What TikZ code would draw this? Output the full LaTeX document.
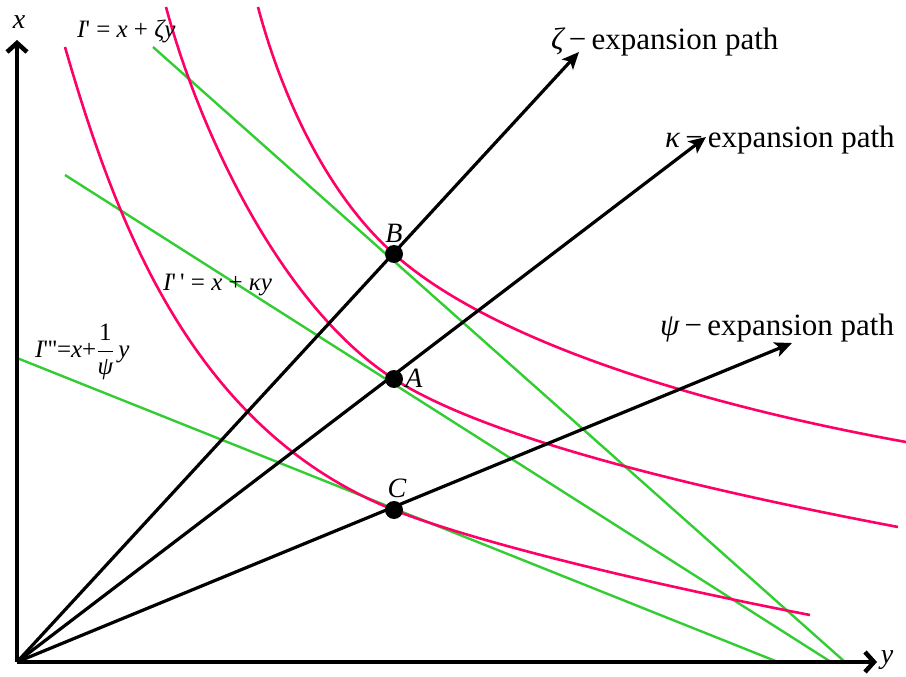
\documentclass[tikz,border=0pt]{standalone}
\usepackage{fontspec}
\setmainfont{Liberation Serif}
\usetikzlibrary{arrows.meta}
\definecolor{icred}{RGB}{255,0,102}
\definecolor{blgreen}{RGB}{51,204,51}
\begin{document}
\begin{tikzpicture}[x=1pt,y=-1pt,
  axisline/.style={line width=4.5pt,-{Straight Barb[length=9pt,width=20pt]}},
  ray/.style={line width=3.2pt,-{Stealth[length=17pt,width=15pt,inset=4pt]}},
  indiff/.style={icred,line width=2.6pt},
  budget/.style={blgreen,line width=2.4pt},
  dot/.style={circle,fill=black,inner sep=0pt,minimum size=18pt},
  biglab/.style={font=\fontsize{31}{31}\selectfont,inner sep=0pt},
  ptlab/.style={font=\fontsize{28}{28}\selectfont\itshape,inner sep=0pt},
  eqlab/.style={font=\fontsize{25}{25}\selectfont,inner sep=0pt},
  smlab/.style={font=\fontsize{25}{25}\selectfont,inner sep=0pt}]
\useasboundingbox (0,0) rectangle (906,677);
% coordinates
\coordinate (O) at (17,662);
\coordinate (xtip) at (17,40);
\coordinate (ytip) at (877,662);
\coordinate (ztip) at (579,52);
\coordinate (ktip) at (706,137);
\coordinate (ptip) at (792,343);
% budget lines
\coordinate (g1s) at (153,47);  \coordinate (g1e) at (845,662);
\coordinate (g2s) at (65,175);  \coordinate (g2e) at (831,662);
\coordinate (g3s) at (17,358);  \coordinate (g3e) at (778,662);
\draw[budget] (g1s) -- (g1e);
\draw[budget] (g2s) -- (g2e);
\draw[budget] (g3s) -- (g3e);
% indifference curves (tangent to the budget lines at B, A, C)
\coordinate (r1s) at (258,7);  \coordinate (r1t) at (394,254); \coordinate (r1e) at (906,442);
\coordinate (r2s) at (166,7);  \coordinate (r2t) at (394,379); \coordinate (r2e) at (898,527);
\coordinate (r3s) at (65,47);  \coordinate (r3t) at (394,510); \coordinate (r3e) at (810,615);
\draw[indiff] (r1s) .. controls (280,90) and (324,192) .. (r1t)
              .. controls (494,343) and (706,406) .. (r1e);
\draw[indiff] (r2s) .. controls (201,137) and (284,309) .. (r2t)
              .. controls (488,439) and (698,489) .. (r2e);
\draw[indiff] (r3s) .. controls (117,227) and (194,430) .. (r3t)
              .. controls (480,544) and (660,586) .. (r3e);
% expansion paths
\draw[ray] (O) -- (ztip);
\draw[ray] (O) -- (ktip);
\draw[ray] (O) -- (ptip);
% axes
\draw[axisline] (O) -- (xtip);
\draw[axisline] (O) -- (ytip);
% points
\node[dot] (B) at (394,254) {};
\node[dot] (A) at (394,379) {};
\node[dot] (C) at (394,510) {};
\node[ptlab] (Bl) at (394,233) {B};
\node[ptlab] (Al) at (414,378) {A};
\node[ptlab] (Cl) at (397,488) {C};
% axis labels
\node[ptlab] (xl) at (19,22) {x};
\node[ptlab] (yl) at (887,660) {y};
% path labels
\node[biglab,anchor=base west] (lz) at (551,50) {{\itshape ζ}\,−\,expansion path};
\node[biglab,anchor=base west] (lk) at (665,147) {{\itshape κ}\,−\,expansion path};
\node[biglab,anchor=base west] (lp) at (660,335) {{\itshape ψ}\,−\,expansion path};
% budget labels
\node[eqlab,anchor=base west] (e1) at (77,38) {{\itshape I}\textquotesingle{} = {\itshape x} + {\itshape ζy}};
\node[eqlab,anchor=base west] (e2) at (163,290) {{\itshape I}\textquotesingle\,\textquotesingle{} = {\itshape x} + {\itshape κy}};
\node[smlab,anchor=base west] (e3) at (35,357) {{\itshape I}\textquotesingle\textquotesingle\textquotesingle{}={\itshape x}+$\displaystyle\frac{\mbox{1}}{\mbox{\itshape ψ}}$\,{\itshape y}};
\end{tikzpicture}
\end{document}
